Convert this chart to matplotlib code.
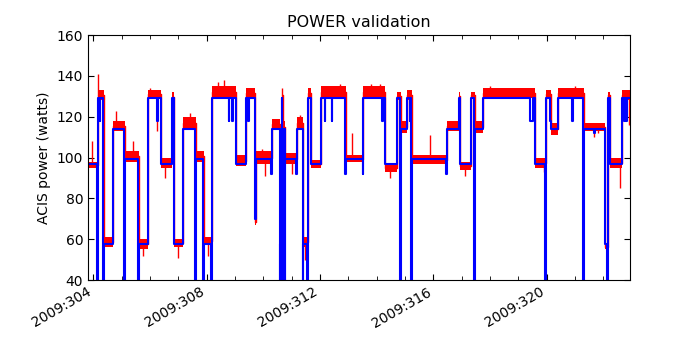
import matplotlib
matplotlib.use('Agg')
import matplotlib.pyplot as plt
import numpy as np

# x: day of year 2009, y: ACIS power (watts)
x_lim = [303.806, 322.938]

# blue model, step starts and levels (20 = drop below the plot)
model_t = [303.806, 304.124, 304.159, 304.219, 304.244, 304.346, 304.381, 304.678,
           305.066, 305.112, 305.581, 305.617, 305.913, 306.252, 306.277, 306.383,
           306.781, 306.859, 307.142, 307.583, 307.618, 307.876, 307.911, 308.158,
           308.193, 308.772, 308.793, 308.889, 308.910, 309.041, 309.394, 309.471,
           309.489, 309.690, 309.746, 310.283, 310.311, 310.573, 310.594, 310.643,
           310.664, 310.689, 310.749, 310.777, 311.148, 311.173, 311.384, 311.406,
           311.536, 311.561, 311.677, 312.048, 312.161, 312.182, 312.408, 312.429,
           312.878, 312.902, 313.502, 313.530, 314.201, 314.226, 314.307, 314.724,
           314.808, 314.844, 315.066, 315.161, 315.182, 315.218, 315.253, 316.443,
           316.467, 316.891, 316.947, 317.314, 317.431, 317.466, 317.759, 319.408,
           319.503, 319.595, 319.948, 319.990, 320.114, 320.138, 320.407, 320.890,
           320.915, 321.289, 321.324, 321.667, 321.692, 322.073, 322.143, 322.178,
           322.242, 322.644, 322.726, 322.750, 322.796, 322.821, 322.938]
model_p = [97, 20, 129, 118, 129, 20, 57.5, 114,
           20, 99.5, 20, 57.5, 129, 118, 129, 97,
           129, 57.5, 114, 20, 99.5, 20, 57.5, 20,
           129, 118, 129, 118, 129, 97, 129, 118,
           129, 70, 99.5, 92, 114, 20, 57.5, 129,
           20, 114, 20, 99.5, 92, 114, 20, 57.5,
           20, 129, 97, 129, 118, 129, 118, 129,
           92, 99.5, 92, 129, 118, 129, 97, 129,
           20, 114, 129, 118, 129, 20, 99.5, 92,
           114, 129, 97, 129, 20, 114, 129, 118,
           129, 97, 20, 129, 118, 114, 129, 118,
           129, 20, 114, 112, 114, 57.5, 20, 129,
           97, 129, 118, 129, 118, 129, 129]

# red measured power: segment starts, band low / high
red_t = [303.806, 304.159, 304.381, 304.678, 305.112, 305.617, 305.913, 306.383,
         306.781, 306.859, 307.142, 307.618, 307.911, 308.193, 309.041, 309.394,
         309.690, 309.746, 310.311, 310.573, 310.643, 310.689, 310.777, 311.173,
         311.406, 311.561, 311.677, 312.048, 312.902, 313.530, 314.307, 314.724,
         314.844, 315.066, 315.253, 316.467, 316.891, 316.947, 317.314, 317.466,
         317.759, 319.595, 319.990, 320.138, 320.407, 321.324, 322.073, 322.178,
         322.242, 322.644]
red_lo = [95, 128, 56, 113, 98, 55, 129, 95,
          127, 56, 114, 98, 57, 129, 96, 129,
          67, 97, 114, 56, 128, 112, 97, 114,
          56, 129, 95, 129, 98, 129, 93, 128,
          112, 128, 97, 113, 128, 94, 129, 112,
          129, 95, 129, 111, 129, 113, 55, 129,
          95, 128]
red_hi = [98, 133, 61, 118, 103, 60, 133, 100,
          132, 60, 120, 103, 61, 135, 101, 134,
          70, 103, 119, 60, 133, 118, 102, 120,
          61, 134, 99, 135, 101, 135, 97, 132,
          118, 133, 101, 118, 132, 98, 132, 118,
          134, 100, 133, 117, 134, 117, 57, 132,
          100, 133]

# single spikes in the measured power
spike_t = [303.947, 304.16, 304.79, 305.39, 305.75, 305.99, 306.25, 306.52,
           306.98, 307.41, 308.04, 308.4, 308.6, 309.95, 310.05, 310.65,
           311.0, 311.3, 311.45, 312.35, 312.7, 313.12, 313.8, 314.12,
           314.47, 315.88, 317.1, 317.99, 318.7, 319.23, 319.9, 320.68,
           320.89, 321.0, 321.67, 321.8, 322.60, 322.9]
spike_v = [108, 141, 123, 108, 52, 134, 113, 90,
           51, 122, 52, 137, 138, 104, 91, 134,
           92, 121, 50, 135, 136, 112, 136, 136,
           90, 111, 91, 135, 134, 134, 93, 134,
           120, 135, 110, 112, 85, 116]

day_ticks = [304, 308, 312, 316, 320]

fig = plt.figure(figsize=(7, 3.5), dpi=100)
ax = fig.add_axes([88/700, 70/350, 542/700, 245/350])

rt = np.array(red_t + [x_lim[1]])
lo = np.array(red_lo + [red_lo[-1]])
hi = np.array(red_hi + [red_hi[-1]])
mid = (lo + hi) / 2.0
ax.fill_between(rt, lo, hi, step='post', color='r', lw=0)
ax.step(rt, mid, where='post', color='r', lw=1)
idx = np.searchsorted(red_t, spike_t, side='right') - 1
ax.vlines(spike_t, mid[idx], spike_v, color='r', lw=1)

ax.step(model_t, model_p, where='post', color='b', lw=1.5)

ax.set_xlim(x_lim)
ax.set_ylim(40, 160)
ax.set_xticks(day_ticks)
ax.set_xticklabels(['2009:%03d' % d for d in day_ticks], rotation=30, ha='right', fontsize=10)
ax.set_xticks(np.arange(304, 323), minor=True)
ax.set_yticks(np.arange(40, 161, 20))
ax.tick_params(axis='y', labelsize=10)
ax.tick_params(which='both', direction='in', top=True, right=True)
ax.tick_params(which='major', length=4)
ax.tick_params(which='minor', length=3)
ax.set_ylabel('ACIS power (watts)', fontsize=10)
ax.set_title('POWER validation', fontsize=11.5)

fig.savefig('out.png', dpi=100)
